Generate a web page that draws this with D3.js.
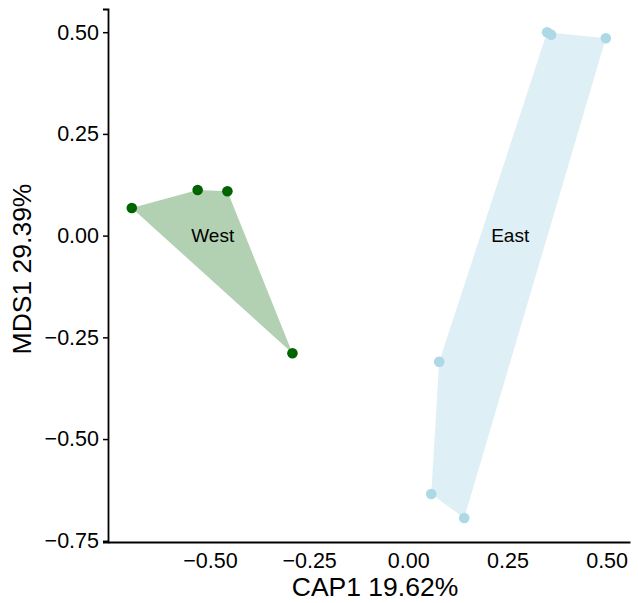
<!DOCTYPE html>
<html>
<head>
<meta charset="utf-8">
<script src="https://cdn.jsdelivr.net/npm/d3@7"></script>
<style>
  html, body { margin: 0; padding: 0; background: #fff; }
  svg { display: block; }
  text { font-family: "Liberation Sans", Arial, Helvetica, sans-serif; }
</style>
</head>
<body>
<script>
// ---- data ----
const groups = ["West", "East"];
const westX = [-0.697, -0.531, -0.456, -0.292];
const westY = [0.068, 0.112, 0.109, -0.289];
const eastX = [0.350, 0.360, 0.498, 0.078, 0.058, 0.141];
const eastY = [0.500, 0.494, 0.485, -0.310, -0.635, -0.694];
const labelX = [-0.493, 0.257];
const labelY = [0.0, 0.0];
const xTicks = [-0.50, -0.25, 0.00, 0.25, 0.50];
const yTicks = [0.50, 0.25, 0.00, -0.25, -0.50, -0.75];
const xTitle = "CAP1 19.62%";
const yTitle = "MDS1 29.39%";
const pointColors = ["#006400", "#ADD8E6"];
const fillColors = ["#006400", "#ADD8E6"];
const fillOpacity = [0.3, 0.4];

const W = 638, H = 603;
const margin = {left: 108, right: 8, top: 9, bottom: 61};

const svg = d3.select("body").append("svg").attr("width", W).attr("height", H);

const x = d3.scaleLinear().domain([-0.757, 0.559]).range([margin.left, W - margin.right]);
const y = d3.scaleLinear().domain([-0.753, 0.557]).range([H - margin.bottom, margin.top]);

const sets = [
  westX.map((v, i) => [v, westY[i]]),
  eastX.map((v, i) => [v, eastY[i]])
];

// hulls
sets.forEach((pts, g) => {
  const hull = d3.polygonHull(pts.map(p => [x(p[0]), y(p[1])]));
  svg.append("path")
    .attr("d", "M" + hull.join("L") + "Z")
    .attr("fill", fillColors[g])
    .attr("fill-opacity", fillOpacity[g])
    .attr("stroke", "none");
});

// points
sets.forEach((pts, g) => {
  svg.append("g").selectAll("circle").data(pts).join("circle")
    .attr("cx", d => x(d[0])).attr("cy", d => y(d[1]))
    .attr("r", 5.3).attr("fill", pointColors[g]);
});

// group labels
groups.forEach((name, g) => {
  svg.append("text")
    .attr("x", x(labelX[g])).attr("y", y(labelY[g]))
    .attr("text-anchor", "middle").attr("dominant-baseline", "central")
    .attr("font-size", 19).attr("fill", "#000")
    .text(name);
});

// axes
const fmt = d => d3.format(".2f")(d).replace("-", "\u2212");
const xAxis = svg.append("g").attr("transform", `translate(0,${H - margin.bottom})`)
  .call(d3.axisBottom(x).tickValues(xTicks).tickFormat(fmt).tickSize(0).tickPadding(11));
xAxis.select(".domain").attr("stroke", "#000").attr("stroke-width", 1.8);
xAxis.selectAll("text").attr("font-size", 21.5).attr("fill", "#000").attr("font-family", "Liberation Sans, Arial, sans-serif");

const yAxis = svg.append("g").attr("transform", `translate(${margin.left},0)`)
  .call(d3.axisLeft(y).tickValues(yTicks).tickFormat(fmt).tickSize(5).tickPadding(4));
yAxis.select(".domain").attr("stroke", "#000").attr("stroke-width", 1.8);
yAxis.selectAll(".tick line").attr("stroke", "#000").attr("stroke-width", 1.5);
yAxis.selectAll("text").attr("font-size", 21.5).attr("fill", "#000").attr("font-family", "Liberation Sans, Arial, sans-serif");

// titles
svg.append("text")
  .attr("x", 375).attr("y", 596)
  .attr("text-anchor", "middle").attr("font-size", 26.5).attr("fill", "#000")
  .text(xTitle);
svg.append("text")
  .attr("transform", `translate(31,269) rotate(-90)`)
  .attr("text-anchor", "middle").attr("font-size", 26.5).attr("fill", "#000")
  .text(yTitle);
</script>
</body>
</html>
